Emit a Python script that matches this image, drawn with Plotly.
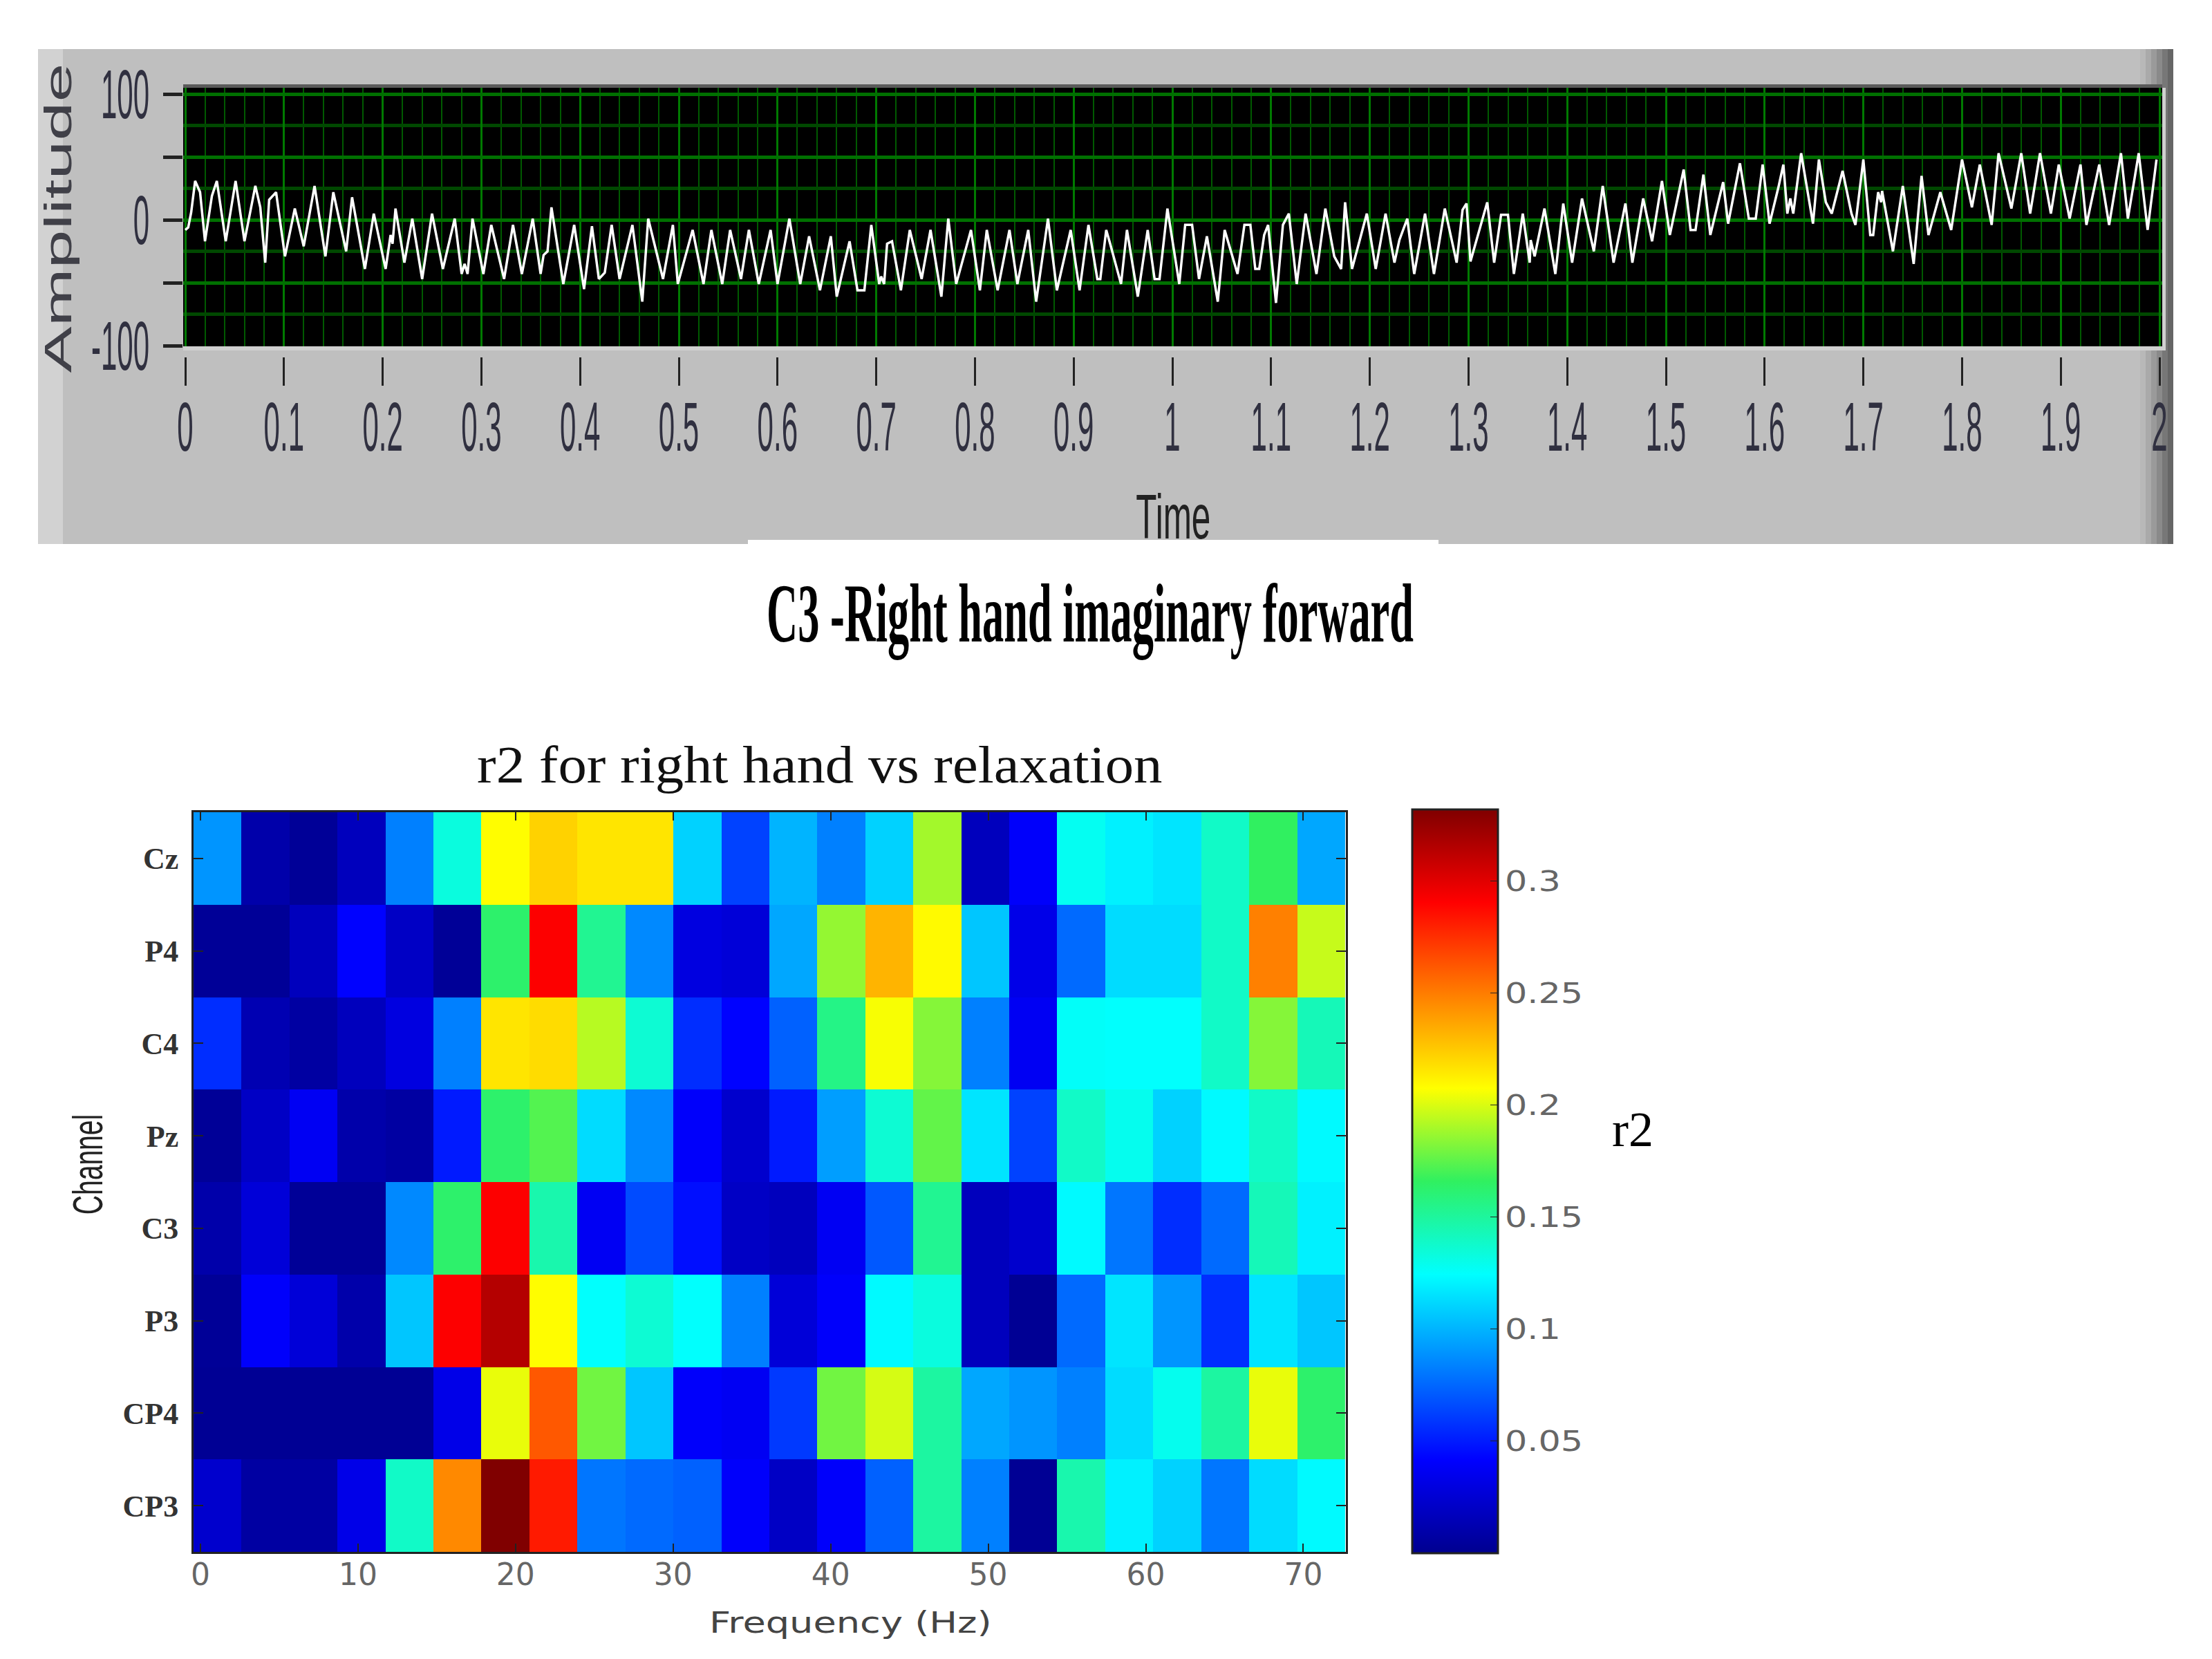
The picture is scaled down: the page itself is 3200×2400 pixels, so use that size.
import plotly.graph_objects as go

# top panel: C3 signal, turning points
time = [0.000,0.003,0.006,0.010,0.015,0.020,0.027,0.032,0.041,0.051,0.060,0.071,0.076,0.081,0.085,0.092,0.101,0.111,0.120,0.131,
        0.142,0.150,0.163,0.169,0.182,0.191,0.203,0.208,0.210,0.213,0.222,0.230,0.240,0.250,0.261,0.273,0.280,0.283,0.286,0.291,
        0.302,0.310,0.323,0.332,0.341,0.352,0.360,0.363,0.367,0.371,0.383,0.394,0.404,0.412,0.419,0.425,0.432,0.440,0.453,0.463,
        0.469,0.484,0.494,0.499,0.514,0.525,0.533,0.544,0.552,0.563,0.571,0.581,0.593,0.600,0.612,0.623,0.632,0.643,0.654,0.660,
        0.673,0.681,0.688,0.695,0.703,0.705,0.708,0.711,0.716,0.725,0.734,0.746,0.755,0.766,0.773,0.781,0.796,0.805,0.812,0.823,
        0.835,0.843,0.854,0.862,0.874,0.883,0.897,0.906,0.915,0.924,0.927,0.933,0.937,0.948,0.954,0.965,0.975,0.982,0.987,0.995,
        1.007,1.013,1.020,1.027,1.035,1.046,1.053,1.066,1.073,1.079,1.084,1.088,1.093,1.097,1.105,1.112,1.118,1.126,1.135,1.146,
        1.155,1.164,1.171,1.175,1.182,1.197,1.206,1.216,1.225,1.230,1.238,1.245,1.256,1.265,1.276,1.288,1.294,1.298,1.302,1.319,
        1.326,1.333,1.340,1.346,1.355,1.362,1.363,1.367,1.377,1.388,1.396,1.405,1.415,1.427,1.436,1.447,1.459,1.466,1.477,1.486,
        1.496,1.504,1.518,1.525,1.530,1.538,1.545,1.558,1.563,1.575,1.584,1.591,1.598,1.605,1.614,1.619,1.623,1.626,1.629,1.637,
        1.649,1.655,1.662,1.668,1.679,1.688,1.692,1.700,1.707,1.710,1.715,1.718,1.719,1.730,1.740,1.751,1.759,1.766,1.778,1.789,
        1.800,1.810,1.818,1.830,1.837,1.850,1.860,1.869,1.879,1.890,1.898,1.909,1.920,1.926,1.939,1.949,1.961,1.968,1.979,1.988,1.997]
amplitude = [-8,-6,6,31,22,-17,19,31,-17,31,-17,27,10,-34,16,22,-29,9,-21,27,
             -29,22,-25,18,-39,5,-39,-12,-19,9,-34,1,-47,5,-39,1,-43,-35,-43,1,
             -43,-4,-47,-4,-43,1,-43,-28,-25,10,-51,-4,-55,-5,-47,-42,-4,-47,-4,-65,
             1,-47,-4,-51,-8,-51,-8,-51,-8,-47,-8,-51,-8,-51,1,-51,-13,-56,-13,-61,
             -17,-56,-56,-4,-51,-45,-51,-19,-17,-56,-8,-47,-8,-61,1,-51,-8,-56,-8,-56,
             -8,-51,-8,-65,1,-56,-8,-56,-4,-47,-47,-8,-19,-51,-8,-61,-8,-47,-47,9,
             -51,-4,-4,-47,-13,-65,-8,-43,-4,-4,-39,-39,-12,-4,-66,-4,5,-51,5,-43,
             9,-29,-39,14,-39,5,-39,5,-34,-16,1,-43,5,-43,9,-34,8,13,-33,14,
             -34,4,4,-43,5,-34,-16,-29,9,-43,13,-34,17,-25,27,-34,13,-34,17,-17,
             31,-12,40,-8,-8,36,-12,30,-3,45,1,1,44,-3,26,44,5,17,5,53,
             -3,48,14,5,39,5,-4,48,-12,-12,22,14,23,-25,27,-35,35,-12,22,-8,
             48,10,44,-4,53,9,53,5,53,5,44,1,44,-4,44,-4,53,1,53,-8,48]
time_ticks = [0,0.1,0.2,0.3,0.4,0.5,0.6,0.7,0.8,0.9,1,1.1,1.2,1.3,1.4,1.5,1.6,1.7,1.8,1.9,2]
amp_ticks = [100,50,0,-50,-100]
amp_labels = ['100','','0','','-100']

# bottom panel: r2 map, one row per channel, 24 frequency bins
channels = ['Cz','P4','C4','Pz','C3','P3','CP4','CP3']
r2_cz = [.090,.010,.003,.017,.083,.133,.208,.222,.216,.216,.110,.063,.100,.083,.110,.189,.017,.040,.128,.120,.116,.139,.166,.096]
r2_p4 = [.003,.003,.017,.042,.020,.003,.163,.291,.153,.086,.030,.027,.096,.186,.232,.209,.106,.033,.076,.113,.113,.139,.249,.196]
r2_c4 = [.056,.013,.007,.017,.030,.083,.216,.219,.193,.136,.056,.042,.073,.156,.206,.183,.083,.037,.126,.125,.125,.139,.183,.143]
r2_pz = [.003,.020,.037,.010,.007,.050,.163,.173,.113,.086,.040,.023,.050,.093,.136,.176,.116,.063,.139,.129,.110,.123,.139,.123]
r2_c3 = [.010,.027,.003,.003,.086,.163,.291,.146,.037,.066,.046,.020,.017,.037,.070,.153,.017,.023,.123,.080,.056,.076,.143,.120]
r2_p3 = [.003,.040,.027,.010,.106,.291,.315,.208,.125,.136,.125,.083,.027,.040,.123,.133,.017,.002,.076,.116,.090,.056,.116,.106]
r2_cp4 = [.002,.002,.002,.002,.002,.033,.203,.262,.179,.106,.040,.037,.060,.179,.199,.149,.096,.090,.083,.113,.129,.149,.203,.163]
r2_cp3 = [.023,.007,.007,.033,.139,.246,.332,.282,.080,.076,.073,.040,.020,.040,.073,.149,.083,.002,.146,.120,.110,.080,.113,.123]
r2_ticks = [0.05,0.1,0.15,0.2,0.25,0.3]
r2_labels = ['0.05','0.1','0.15','0.2','0.25','0.3']
freq_ticks = [0,10,20,30,40,50,60,70]

jet = [[0,'#00008f'],[0.125,'#0000ff'],[0.375,'#00ffff'],[0.5,'#30f060'],[0.625,'#ffff00'],[0.875,'#ff0000'],[1,'#800000']]

W,H = 3200,2400

def px(x):
    return x/W

def py(y):
    return 1-y/H

def box(x0,x1,y0,y1,color):
    return dict(type='rect',xref='paper',yref='paper',x0=px(x0),x1=px(x1),y0=py(y1),y1=py(y0),fillcolor=color,line_width=0,layer='below')

fig = go.Figure()
fig.add_trace(go.Scatter(x=time,y=amplitude,mode='lines',line=dict(color='white',width=3.5),xaxis='x',yaxis='y',showlegend=False))
fig.add_trace(go.Heatmap(z=[r2_cz,r2_p4,r2_c4,r2_pz,r2_c3,r2_p3,r2_cp4,r2_cp3],x0=1.08,dx=3.046,y=channels,
                         colorscale=jet,zmin=0,zmax=0.332,xaxis='x2',yaxis='y2',
                         colorbar=dict(x=px(2043),xanchor='left',y=py(1171),yanchor='top',len=1076/H,thickness=124,xpad=0,ypad=0,
                                       outlinecolor='#222222',outlinewidth=3,ticks='inside',ticklen=12,tickcolor='#222222',
                                       tickvals=r2_ticks,ticktext=r2_labels,
                                       tickfont=dict(family='DejaVu Sans',size=40,color='#666666'))))

# grey instrument panel behind the signal
shapes = [box(55,3144,71,787,'#bfbfbf'),box(55,91,71,787,'#d2d2d2'),box(1082,2081,781,787,'white')]
edge = ['#b8b8b8','#aaaaaa','#9a9a9a','#8a8a8a','#777777','#666666']
for i,c in enumerate(edge):
    shapes.append(box(3096+8*i,3104+8*i,71,787,c))
shapes += [box(265,3128,122,127,'#5a5a5a'),box(265,3133,501,507,'#d0d0d0'),box(3128,3133,127,507,'#d0d0d0'),box(265,3128,127,501,'black')]

notes = [dict(text='Amplitude',x=px(84),y=py(316),textangle=-90,font=dict(family='Liberation Sans',size=56,color='#404048')),
         dict(text='Time',x=px(1697),y=py(748),font=dict(family='Liberation Sans',size=90,color='#222222')),
         dict(text='<b>C3 -Right hand imaginary forward</b>',x=px(1577),y=py(888),font=dict(family='Liberation Serif',size=120,color='black')),
         dict(text='r2 for right hand vs relaxation',x=px(1186),y=py(1106),font=dict(family='Liberation Serif',size=76,color='#111111')),
         dict(text='Frequency (Hz)',x=px(1230),y=py(2347),font=dict(family='DejaVu Sans',size=42,color='#444444')),
         dict(text='Channel',x=px(127),y=py(1685),textangle=-90,font=dict(family='Liberation Sans',size=62,color='#222222')),
         dict(text='r2',x=px(2362),y=py(1634),font=dict(family='Liberation Serif',size=72,color='black'))]
for n in notes:
    n.update(xref='paper',yref='paper',showarrow=False,xanchor='center',yanchor='middle')

fig.update_layout(template='none',width=W,height=H,margin=dict(l=0,r=0,t=0,b=0),paper_bgcolor='white',plot_bgcolor='rgba(0,0,0,0)',
    shapes=shapes,annotations=notes,
    xaxis=dict(domain=[px(265),px(3128)],range=[-0.0021,2.0028],anchor='free',position=py(516),side='bottom',
               tickvals=time_ticks,ticktext=[str(t) for t in time_ticks],ticks='outside',ticklen=41,tickwidth=3,tickcolor='#222222',
               tickfont=dict(family='Liberation Sans',size=100,color='#303040'),ticklabelstandoff=-26,
               showgrid=True,gridcolor='#007a00',gridwidth=2.5,showline=False,zeroline=False,tickangle=0,
               minor=dict(dtick=0.02,tick0=0,showgrid=True,gridcolor='#005a00',gridwidth=2)),
    yaxis=dict(domain=[py(501),py(127)],range=[-100.5,105],anchor='x',position=px(265),
               tickvals=amp_ticks,ticktext=amp_labels,ticks='outside',ticklen=28,tickwidth=5,tickcolor='#222222',
               tickfont=dict(family='Liberation Sans',size=100,color='#303040'),
               showgrid=True,gridcolor='#007000',gridwidth=5,showline=False,zeroline=False,
               minor=dict(dtick=25,tick0=0,showgrid=True,gridcolor='#004800',gridwidth=5)),
    xaxis2=dict(domain=[px(280),px(1947)],range=[-0.44,72.7],anchor='y2',tickvals=freq_ticks,ticks='inside',ticklen=12,tickwidth=2,
                tickcolor='#222222',mirror='ticks',showline=True,linecolor='#222222',linewidth=3,showgrid=False,zeroline=False,
                tickfont=dict(family='DejaVu Sans',size=44,color='#666666'),ticklabelstandoff=-8),
    yaxis2=dict(domain=[py(2245),py(1175)],anchor='x2',autorange='reversed',ticks='inside',ticklen=14,tickwidth=2,
                tickcolor='#222222',mirror='ticks',showline=True,linecolor='#222222',linewidth=3,showgrid=False,zeroline=False,
                tickfont=dict(family='Liberation Serif',size=44,color='#333333',weight='bold'),ticklabelstandoff=10))

# the reference's text is stretched, plotly fonts can't do that, so rescale the svg text after plotting
squeeze = """
document.body.style.margin='0';
var gd=document.getElementById('{plot_id}');
function sq(list,sx,sy,anchor){list.forEach(function(t){
  var b=t.getBBox();var ax=anchor<0?b.x:(anchor>0?b.x+b.width:b.x+b.width/2);var ay=b.y+b.height/2;
  var old=t.getAttribute('transform')||'';
  t.setAttribute('transform',old+' translate('+ax+' '+ay+') scale('+sx+' '+sy+') translate('+(-ax)+' '+(-ay)+')');
});}
function note(s){return Array.from(gd.querySelectorAll('.annotation-text')).filter(function(t){return t.textContent.indexOf(s)==0;});}
sq(gd.querySelectorAll('.xy .xaxislayer-above .xtick text'),0.42,1,0);
sq(gd.querySelectorAll('.xy .yaxislayer-above .ytick text'),0.42,1,1);
sq(gd.querySelectorAll('.x2y2 .yaxislayer-above .ytick text'),1.35,1,1);
sq(gd.querySelectorAll('.colorbar text'),1.27,1,-1);
sq(note('Amplitude'),1.8,1,0);
sq(note('Time'),0.55,1,0);
sq(note('C3 -Right'),0.52,1,0);
sq(note('r2 for'),1.09,1,0);
sq(note('Frequency'),1.29,1,0);
sq(note('Channel'),0.63,1,0);
"""
fig.write_html("out.html",post_script=squeeze,config=dict(displayModeBar=False))
